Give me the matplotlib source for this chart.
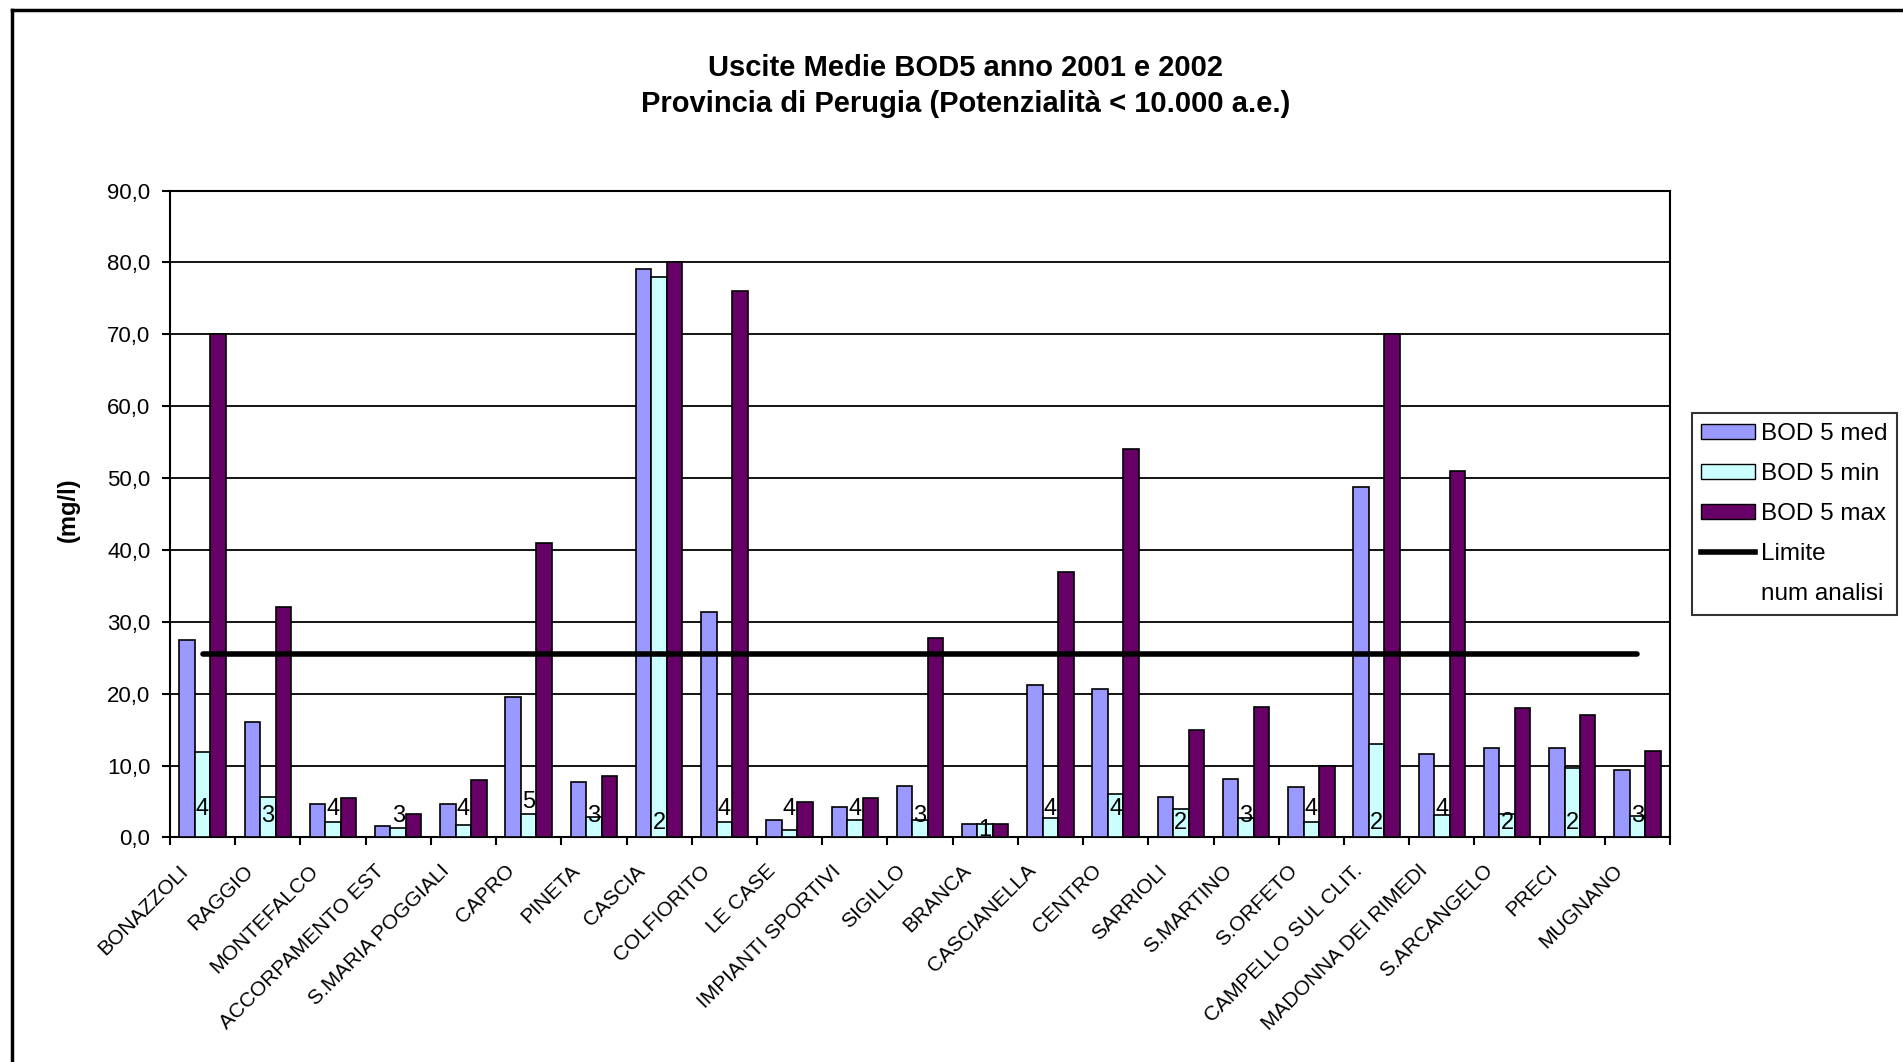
import numpy as np
import matplotlib
matplotlib.use('Agg')
import matplotlib.pyplot as plt
import matplotlib.transforms as mtransforms
from matplotlib.lines import Line2D
from matplotlib.patches import Patch
from matplotlib.ticker import FuncFormatter, MultipleLocator

plt.rcParams['font.family'] = ['Liberation Sans', 'DejaVu Sans']

impianti = ["BONAZZOLI", "RAGGIO", "MONTEFALCO", "ACCORPAMENTO EST", "S.MARIA POGGIALI",
            "CAPRO", "PINETA", "CASCIA", "COLFIORITO", "LE CASE", "IMPIANTI SPORTIVI",
            "SIGILLO", "BRANCA", "CASCIANELLA", "CENTRO", "SARRIOLI", "S.MARTINO",
            "S.ORFETO", "CAMPELLO SUL CLIT.", "MADONNA DEI RIMEDI", "S.ARCANGELO",
            "PRECI", "MUGNANO"]
bod_med = [27.5, 16.1, 4.7, 1.6, 4.7, 19.5, 7.7, 79.1, 31.3, 2.4, 4.3, 7.2, 1.9,
           21.2, 20.6, 5.6, 8.1, 7.0, 48.8, 11.6, 12.5, 12.5, 9.4]
bod_min = [11.9, 5.6, 2.1, 1.3, 1.8, 3.2, 2.9, 78.0, 2.1, 1.0, 2.4, 2.4, 1.9,
           2.7, 6.0, 3.9, 2.7, 2.1, 13.0, 3.1, 3.3, 9.7, 3.0]
bod_max = [70.0, 32.0, 5.5, 3.3, 8.0, 41.0, 8.5, 80.0, 76.0, 5.0, 5.5, 27.8, 1.9,
           37.0, 54.1, 15.0, 18.1, 10.0, 70.0, 51.0, 18.0, 17.0, 12.0]
num_analisi = [4, 3, 4, 3, 4, 5, 3, 2, 4, 4, 4, 3, 1, 4, 4, 2, 3, 4, 2, 4, 2, 2, 3]
limite = 25.5

col_med = "#9999FF"
col_min = "#CCFFFF"
col_max = "#660066"

fig = plt.figure(figsize=(19.03, 10.62), dpi=100)
ax = fig.add_axes([0.0893, 0.2114, 0.7883, 0.6092])

x = np.arange(len(impianti))
w = 0.237
ax.bar(x - w, bod_med, w, color=col_med, edgecolor="black", linewidth=1.2, zorder=3)
ax.bar(x, bod_min, w, color=col_min, edgecolor="black", linewidth=1.2, zorder=3)
ax.bar(x + w, bod_max, w, color=col_max, edgecolor="black", linewidth=1.2, zorder=3)
ax.plot(x, [limite] * len(x), color="black", linewidth=4, solid_capstyle="round", zorder=4)

# numero analisi, scritto sulla barra del minimo
for xi, n in zip(x, num_analisi):
    ax.text(xi, n, str(n), ha="center", va="center", fontsize=17, zorder=5)

ax.set_xlim(-0.5, len(impianti) - 0.5)
ax.set_ylim(0, 90)
ax.yaxis.set_major_locator(MultipleLocator(10))
ax.yaxis.set_major_formatter(FuncFormatter(lambda v, p: ("%.1f" % v).replace(".", ",")))
ax.grid(axis="y", color="black", linewidth=1.3, zorder=1)
ax.set_axisbelow(True)

ax.set_xticks(x)
ax.set_xticklabels(impianti, rotation=45, ha="right", va="top", rotation_mode="anchor",
                   fontsize=15)
ax.tick_params(axis="x", which="major", length=0, pad=17)
shift = mtransforms.ScaledTranslation(-0.24, 0, fig.dpi_scale_trans)
for lab in ax.get_xticklabels():
    lab.set_transform(lab.get_transform() + shift)
ax.set_xticks(np.arange(-0.5, len(impianti), 1), minor=True)
ax.tick_params(axis="x", which="minor", length=6, width=1.5, direction="out")
ax.tick_params(axis="y", labelsize=16, length=6, width=1.5, pad=8)
for s in ax.spines.values():
    s.set_linewidth(1.5)
    s.set_color("black")

fig.text(0.036, 0.52, "(mg/l)", rotation=90, ha="center", va="center",
         fontsize=17, fontweight="bold")
fig.text(0.5074, 0.936, "Uscite Medie BOD5 anno 2001 e 2002", ha="center", va="center",
         fontsize=21, fontweight="bold")
fig.text(0.5074, 0.902, "Provincia di Perugia (Potenzialità < 10.000 a.e.)", ha="center",
         va="center", fontsize=21, fontweight="bold")

handles = [Patch(facecolor=col_med, edgecolor="black"),
           Patch(facecolor=col_min, edgecolor="black"),
           Patch(facecolor=col_max, edgecolor="black"),
           Line2D([0], [0], color="black", linewidth=4),
           Line2D([0], [0], color="none")]
labels = ["BOD 5 med", "BOD 5 min", "BOD 5 max", "Limite", "num analisi"]
leg = fig.legend(handles, labels, loc="upper left", bbox_to_anchor=(0.889, 0.611),
                 bbox_transform=fig.transFigure, fontsize=17.5, frameon=True,
                 fancybox=False, edgecolor="black", handlelength=2.2, handleheight=0.55,
                 labelspacing=0.74, handletextpad=0.25, borderpad=0.4, borderaxespad=0)
leg.get_frame().set_linewidth(1.5)

# bordo dell'area grafico
fig.add_artist(Line2D([0.0063, 0.0063], [0.0, 0.991], color="black", linewidth=2.5,
                      transform=fig.transFigure))
fig.add_artist(Line2D([0.0063, 1.0], [0.991, 0.991], color="black", linewidth=2.5,
                      transform=fig.transFigure))

plt.savefig("out.png", dpi=100)
plt.close()
